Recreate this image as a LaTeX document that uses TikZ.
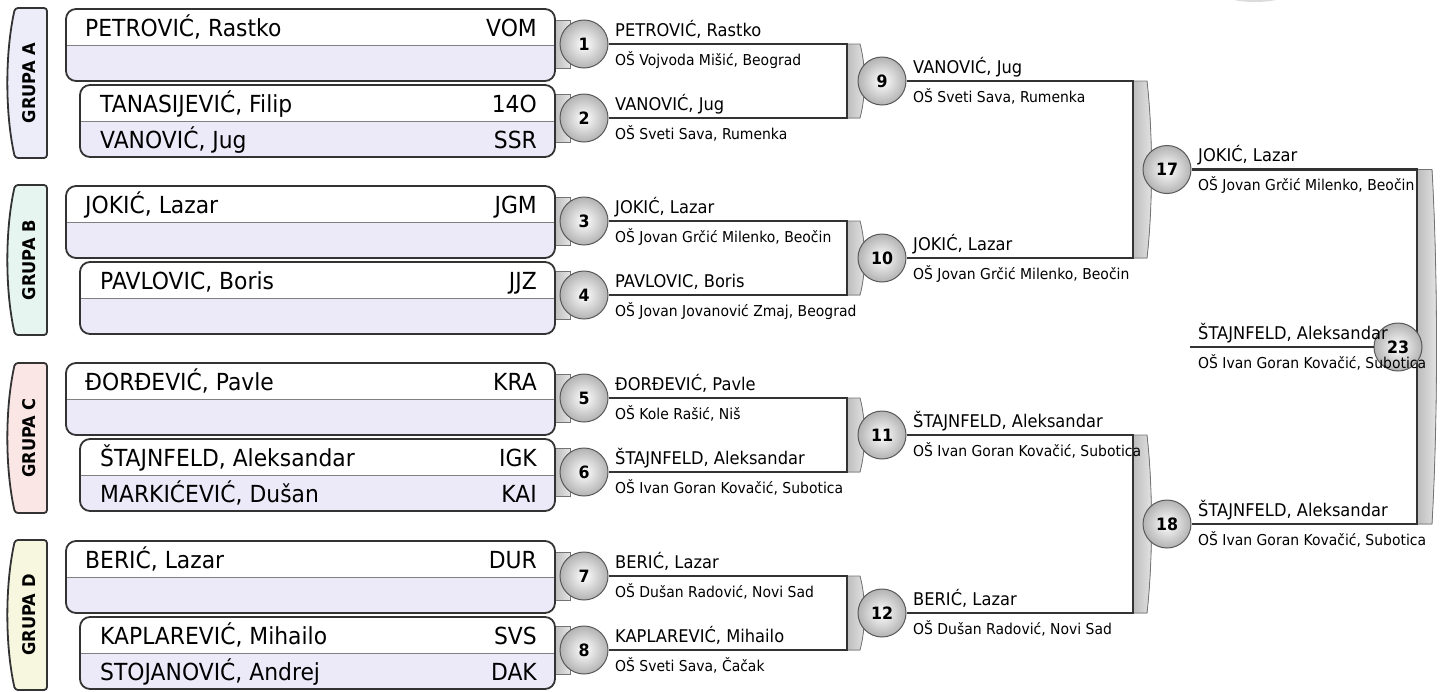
\documentclass[tikz,border=0pt]{standalone}
\usepackage{fontspec}
\setmainfont{DejaVu Sans}[FakeStretch=0.93]
\usetikzlibrary{calc}
\definecolor{lav}{HTML}{ECEAF8}
\definecolor{tabA}{HTML}{EDEDFA}
\definecolor{tabB}{HTML}{E6F5EF}
\definecolor{tabC}{HTML}{FBE6E6}
\definecolor{tabD}{HTML}{F7F7DF}
\definecolor{edge}{HTML}{333333}
\tikzset{
 boxedge/.style={draw=edge, line width=1.8pt, rounded corners=10pt},
 divider/.style={draw=black!50, line width=0.8pt},
 bigname/.style={anchor=base west, inner sep=0pt, font=\fontsize{23.5}{26}\selectfont},
 code/.style={anchor=base east, inner sep=0pt, font=\fontsize{23.5}{26}\selectfont},
 match/.style={circle, minimum size=48pt, inner sep=0pt, draw=black!65, line width=1pt, inner color=white, outer color=black!30, font=\bfseries\fontsize{17}{19}\selectfont},
 wname/.style={anchor=base west, inner sep=0pt, font=\fontsize{17.5}{19}\selectfont},
 school/.style={anchor=base west, inner sep=0pt, font=\fontsize{15}{17}\selectfont},
 wire/.style={draw=edge, line width=2.6pt},
 brk/.style={left color=black!26, right color=black!10, draw=black!55, line width=0.8pt},
 grp/.style={draw=edge, line width=1.8pt, rounded corners=3pt},
 grptext/.style={rotate=90, font=\bfseries\fontsize{17.5}{19}\selectfont, inner sep=0pt},
}
% group tab: #1 top y, #2 colour, #3 letter, #4 node name
\newcommand\mygrouptab[4]{%
 \filldraw[grp, fill=#2] (47,#1) -- (15,#1) .. controls (5,{#1+45}) and (5,{#1+105}) .. (15,{#1+150}) -- (47,{#1+150}) -- cycle;
 \node[grptext] (#4) at (29,{#1+75}) {GRUPA #3};}
% player box frame: #1 left x, #2 top y
\newcommand\myplayerframe[2]{%
 \begin{scope}
 \clip[rounded corners=10pt] (#1,#2) rectangle (555,{#2+72});
 \fill[white] (#1,#2) rectangle (555,{#2+36});
 \fill[lav] (#1,{#2+36}) rectangle (555,{#2+73});
 \end{scope}
 \draw[divider] (#1,{#2+36}) -- (555,{#2+36});
 \draw[boxedge] (#1,#2) rectangle (555,{#2+72});}
% small tab behind first-round circle: #1 centre y
\newcommand\myroundtab[1]{\filldraw[brk] (555,{#1-24}) rectangle (570,{#1+24});}
% bracket: #1 x, #2 top y, #3 bottom y, #4 width
\newcommand\mybracketfill[4]{%
 \filldraw[brk] (#1,#2) -- ({#1+#4},#2) .. controls ({#1+#4+6},{#2+0.3*(#3-#2)}) and ({#1+#4+6},{#3-0.3*(#3-#2)}) .. ({#1+#4},#3) -- (#1,#3) -- cycle;}
\begin{document}
\begin{tikzpicture}[x=1pt,y=-1pt]
\useasboundingbox (0,0) rectangle (1450,691);
\begin{scope}
 \clip (0,0) rectangle (1450,691);
 \fill[black!14] (1255,-10) ellipse (38 and 12);
\end{scope}

% group tabs
\mygrouptab{8}{tabA}{A}{gA}
\mygrouptab{185}{tabB}{B}{gB}
\mygrouptab{363}{tabC}{C}{gC}
\mygrouptab{540}{tabD}{D}{gD}

% first-round tabs
\myroundtab{44}\myroundtab{118}\myroundtab{221}\myroundtab{295}
\myroundtab{398}\myroundtab{472}\myroundtab{576}\myroundtab{650}

% brackets
\mybracketfill{847}{44}{118}{13}
\mybracketfill{847}{221}{295}{13}
\mybracketfill{847}{398}{472}{13}
\mybracketfill{847}{576}{650}{13}
\mybracketfill{1133}{81}{258}{14}
\mybracketfill{1133}{435}{613}{14}
\mybracketfill{1417}{169.5}{524}{15}

% player boxes
\myplayerframe{66}{9}\myplayerframe{80}{85}
\myplayerframe{66}{186}\myplayerframe{80}{262}
\myplayerframe{66}{363}\myplayerframe{80}{439}
\myplayerframe{66}{541}\myplayerframe{80}{617}

\node[bigname] (pA1) at (85,36) {PETROVIĆ, Rastko};
\node[code] (cA1) at (537,36) {VOM};
\node[bigname] (pA2) at (100,112) {TANASIJEVIĆ, Filip};
\node[code] (cA2) at (537,112) {14O};
\node[bigname] (pA3) at (100,148) {VANOVIĆ, Jug};
\node[code] (cA3) at (537,148) {SSR};

\node[bigname] (pB1) at (85,213) {JOKIĆ, Lazar};
\node[code] (cB1) at (537,213) {JGM};
\node[bigname] (pB2) at (100,289) {PAVLOVIC, Boris};
\node[code] (cB2) at (537,289) {JJZ};

\node[bigname] (pC1) at (85,390) {ĐORĐEVIĆ, Pavle};
\node[code] (cC1) at (537,390) {KRA};
\node[bigname] (pC2) at (100,466) {ŠTAJNFELD, Aleksandar};
\node[code] (cC2) at (537,466) {IGK};
\node[bigname] (pC3) at (100,502) {MARKIĆEVIĆ, Dušan};
\node[code] (cC3) at (537,502) {KAI};

\node[bigname] (pD1) at (85,568) {BERIĆ, Lazar};
\node[code] (cD1) at (537,568) {DUR};
\node[bigname] (pD2) at (100,644) {KAPLAREVIĆ, Mihailo};
\node[code] (cD2) at (537,644) {SVS};
\node[bigname] (pD3) at (100,680) {STOJANOVIĆ, Andrej};
\node[code] (cD3) at (537,680) {DAK};

% match circles
\node[match] (m1) at (584,44) {1};
\node[match] (m2) at (584,118) {2};
\node[match] (m3) at (584,221) {3};
\node[match] (m4) at (584,295) {4};
\node[match] (m5) at (584,398) {5};
\node[match] (m6) at (584,472) {6};
\node[match] (m7) at (584,576) {7};
\node[match] (m8) at (584,650) {8};
\node[match] (m9) at (882,81) {9};
\node[match] (m10) at (882,258) {10};
\node[match] (m11) at (882,435) {11};
\node[match] (m12) at (882,613) {12};
\node[match] (m17) at (1167,169.5) {17};
\node[match] (m18) at (1167,524) {18};

\coordinate (k2) at (847,0);
\coordinate (k3) at (1133,0);
\coordinate (k4) at (1417,0);

% wires
\draw[wire] (m1.east) -- (m1.east -| k2) -- (m2.east -| k2) -- (m2.east);
\draw[wire] (m3.east) -- (m3.east -| k2) -- (m4.east -| k2) -- (m4.east);
\draw[wire] (m5.east) -- (m5.east -| k2) -- (m6.east -| k2) -- (m6.east);
\draw[wire] (m7.east) -- (m7.east -| k2) -- (m8.east -| k2) -- (m8.east);
\draw[wire] (m9.east) -- (m9.east -| k3) -- (m10.east -| k3) -- (m10.east);
\draw[wire] (m11.east) -- (m11.east -| k3) -- (m12.east -| k3) -- (m12.east);
\draw[wire] (m17.east) -- (m17.east -| k4) -- (m18.east -| k4) -- (m18.east);

\node[match] (m23) at (1398,347) {23};
\coordinate (f23) at (1190,347);
\draw[wire] (f23) -- (m23.west);

% winner labels
\node[wname] (w1) at (615,36) {PETROVIĆ, Rastko};
\node[school] (s1) at (615,65) {OŠ Vojvoda Mišić, Beograd};
\node[wname] (w2) at (615,110) {VANOVIĆ, Jug};
\node[school] (s2) at (615,139) {OŠ Sveti Sava, Rumenka};
\node[wname] (w3) at (615,213) {JOKIĆ, Lazar};
\node[school] (s3) at (615,242) {OŠ Jovan Grčić Milenko, Beočin};
\node[wname] (w4) at (615,287) {PAVLOVIC, Boris};
\node[school] (s4) at (615,316) {OŠ Jovan Jovanović Zmaj, Beograd};
\node[wname] (w5) at (615,390) {ĐORĐEVIĆ, Pavle};
\node[school] (s5) at (615,419) {OŠ Kole Rašić, Niš};
\node[wname] (w6) at (615,464) {ŠTAJNFELD, Aleksandar};
\node[school] (s6) at (615,493) {OŠ Ivan Goran Kovačić, Subotica};
\node[wname] (w7) at (615,568) {BERIĆ, Lazar};
\node[school] (s7) at (615,597) {OŠ Dušan Radović, Novi Sad};
\node[wname] (w8) at (615,642) {KAPLAREVIĆ, Mihailo};
\node[school] (s8) at (615,671) {OŠ Sveti Sava, Čačak};

\node[wname] (w9) at (913,73) {VANOVIĆ, Jug};
\node[school] (s9) at (913,102) {OŠ Sveti Sava, Rumenka};
\node[wname] (w10) at (913,250) {JOKIĆ, Lazar};
\node[school] (s10) at (913,279) {OŠ Jovan Grčić Milenko, Beočin};
\node[wname] (w11) at (913,427) {ŠTAJNFELD, Aleksandar};
\node[school] (s11) at (913,456) {OŠ Ivan Goran Kovačić, Subotica};
\node[wname] (w12) at (913,605) {BERIĆ, Lazar};
\node[school] (s12) at (913,634) {OŠ Dušan Radović, Novi Sad};

\node[wname] (w17) at (1198,161.5) {JOKIĆ, Lazar};
\node[school] (s17) at (1198,190.5) {OŠ Jovan Grčić Milenko, Beočin};
\node[wname] (w18) at (1198,516) {ŠTAJNFELD, Aleksandar};
\node[school] (s18) at (1198,545) {OŠ Ivan Goran Kovačić, Subotica};
\node[wname] (w23) at (1198,339) {ŠTAJNFELD, Aleksandar};
\node[school] (s23) at (1198,368) {OŠ Ivan Goran Kovačić, Subotica};
\end{tikzpicture}
\end{document}
